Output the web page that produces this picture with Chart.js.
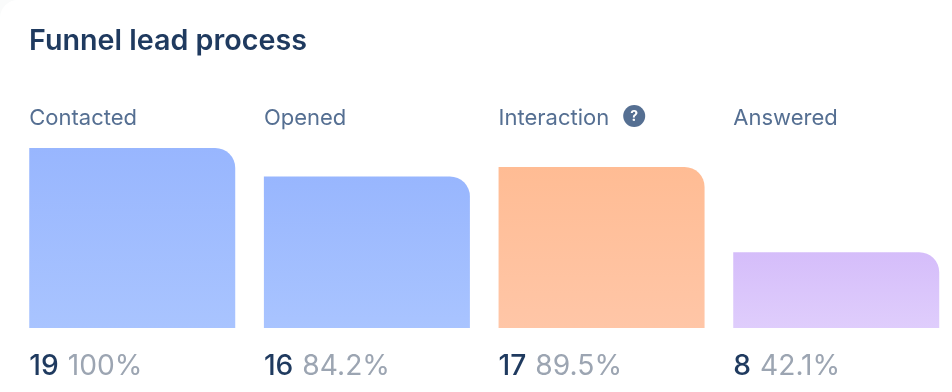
<!DOCTYPE html>
<html>
<head>
<meta charset="utf-8">
<style>
html, body { margin: 0; padding: 0; background: #fafbfb; overflow: hidden; }
#wrap { position: absolute; left: 0; top: 0; width: 960px; height: 392px; background: #fff; border-top-left-radius: 18px; }
</style>
<script src="https://cdn.jsdelivr.net/npm/chart.js@4/dist/chart.umd.min.js"></script>
</head>
<body>
<div id="wrap"><canvas id="funnelChart"></canvas></div>
<script>
var chartTitle = 'Funnel lead process';
var stages = ['Contacted', 'Opened', 'Interaction', 'Answered'];
var counts = [19, 16, 17, 8];
var percents = ['100%', '84.2%', '89.5%', '42.1%'];
var topColors = ['#98B6FE', '#98B6FE', '#FFBC94', '#D5BDFA'];
var bottomColors = ['#A9C4FF', '#A9C4FF', '#FFC6A7', '#DFCDFC'];

var FONT = 'Inter, sans-serif';

var labelPlugin = {
    id: 'funnelLabels',
    afterDatasetsDraw: function(chart){
        var ctx = chart.ctx;
        var bars = chart.getDatasetMeta(0).data;
        ctx.save();
        ctx.textBaseline = 'alphabetic';
        ctx.textAlign = 'left';

        ctx.fillStyle = '#1F3A5F';
        ctx.font = '600 28.7px ' + FONT;
        ctx.fillText(chartTitle, 29, 50);

        bars.forEach(function(bar, i){
            var left = bar.x - bar.width / 2;

            ctx.fillStyle = '#556F92';
            ctx.font = '400 22px ' + FONT;
            ctx.fillText(stages[i], left, 125);

            if(stages[i] === 'Interaction'){
                var w = ctx.measureText(stages[i]).width;
                ctx.beginPath();
                ctx.arc(left + w + 25, 116, 11, 0, Math.PI * 2);
                ctx.fill();
                ctx.fillStyle = '#fff';
                ctx.font = '700 14px ' + FONT;
                ctx.textAlign = 'center';
                ctx.fillText('?', left + w + 25, 121);
                ctx.textAlign = 'left';
            }

            ctx.font = '500 28.2px ' + FONT;
            ctx.fillStyle = '#1F3A5F';
            ctx.fillText(counts[i], left, 375);
            var cw = ctx.measureText(String(counts[i])).width;
            ctx.font = '400 28.2px ' + FONT;
            ctx.fillStyle = '#9CA5B2';
            ctx.fillText(percents[i], left + cw + 9, 375);
        });
        ctx.restore();
    }
};

function barGradient(context){
    var chart = context.chart;
    var area = chart.chartArea;
    var i = context.dataIndex;
    if(!area || !chart.scales.y) return topColors[i];
    var g = chart.ctx.createLinearGradient(0, chart.scales.y.getPixelForValue(counts[i]), 0, area.bottom);
    g.addColorStop(0, topColors[i]);
    g.addColorStop(1, bottomColors[i]);
    return g;
}

var chart = new Chart(document.getElementById('funnelChart'), {
    type: 'bar',
    data: {
        labels: stages,
        datasets: [{
            data: counts,
            backgroundColor: barGradient,
            borderRadius: { topLeft: 0, topRight: 20, bottomLeft: 0, bottomRight: 0 },
            borderSkipped: false,
            categoryPercentage: 1,
            barPercentage: 206 / 234.67
        }]
    },
    plugins: [labelPlugin],
    options: {
        responsive: true,
        maintainAspectRatio: false,
        animation: false,
        layout: { padding: { left: 14.9, right: 6.43, top: 148, bottom: 64 } },
        plugins: { legend: { display: false }, tooltip: { enabled: false } },
        scales: {
            x: { display: false },
            y: { display: false, min: 0, max: 19 }
        }
    }
});
</script>
</body>
</html>
